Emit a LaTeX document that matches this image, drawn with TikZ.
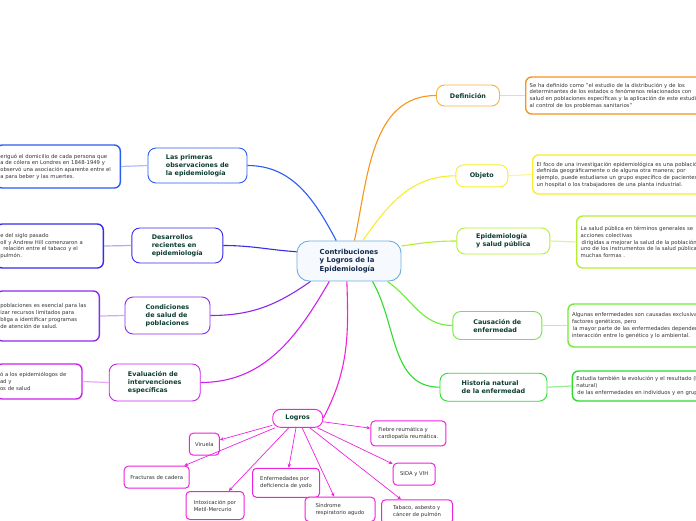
\documentclass[tikz,border=0pt]{standalone}
\usepackage{fontspec}
\setmainfont{DejaVu Sans}
\usetikzlibrary{arrows.meta}
\definecolor{azul}{HTML}{2B5CF2}
\definecolor{indigo}{HTML}{3A2BEB}
\definecolor{violeta}{HTML}{8A2BE8}
\definecolor{purpura}{HTML}{CC22EE}
\definecolor{rosa}{HTML}{EE22DD}
\definecolor{verde}{HTML}{2EDB2E}
\definecolor{verdeclaro}{HTML}{6EEA3A}
\definecolor{lima}{HTML}{B5EE30}
\definecolor{amarillo}{HTML}{F8EC2E}
\definecolor{naranja}{HTML}{F7941D}
\definecolor{naranjaclaro}{HTML}{FBB040}
\definecolor{celeste}{HTML}{6AAEE0}
\definecolor{celestefondo}{HTML}{F6FAFE}
\definecolor{verdeosc}{HTML}{0B3D30}
\definecolor{azulosc}{HTML}{13284A}
\definecolor{gristxt}{HTML}{333333}
\tikzset{
  rama/.style={draw,fill=white,rounded corners=8pt,line width=0.9pt,align=left,
    text=verdeosc,font=\bfseries\fontsize{6.4}{8}\selectfont},
  nota/.style={draw,fill=white,rounded corners=6pt,line width=1.4pt,align=left,
    text=gristxt,font=\fontsize{5.3}{6.7}\selectfont,inner sep=4pt},
  logro/.style={draw=rosa,fill=white,rounded corners=4pt,line width=1pt,align=left,
    text=gristxt,font=\fontsize{5.3}{7}\selectfont},
  flecha/.style={draw=rosa,line width=0.7pt,-{Stealth[length=4pt,width=3.5pt]}},
  enlace/.style={line width=1.1pt},
  union/.style={line width=1.2pt}
}
\begin{document}
\begin{tikzpicture}[x=1pt,y=-1pt]
\useasboundingbox (0,0) rectangle (696,520);
\clip (0,0) rectangle (696,520);

\node[draw=celeste,fill=celestefondo,rounded corners=12pt,line width=0.9pt,align=left,
  text=azulosc,font=\bfseries\fontsize{6.9}{8.5}\selectfont,
  minimum width=104pt,minimum height=40pt] (central) at (349,261)
  {Contribuciones\\y Logros de la\\Epidemiología};

% ramas izquierda
\node[rama,draw=azul,minimum width=99pt,minimum height=35pt] (prim) at (197.5,165.5)
  {Las primeras\\observaciones de\\la epidemiología};
\node[rama,draw=indigo,minimum width=91pt,minimum height=35pt] (desa) at (177.3,245.5)
  {Desarrollos\\recientes en\\epidemiología};
\node[rama,draw=violeta,minimum width=85pt,minimum height=37pt] (cond) at (167.5,315.5)
  {Condiciones\\de salud de\\poblaciones};
\node[rama,draw=purpura,minimum width=91pt,minimum height=37pt] (eval) at (154.7,382.5)
  {Evaluación de\\intervenciones\\específicas};

% ramas derecha
\node[rama,draw=naranjaclaro,minimum width=63pt,minimum height=21pt] (defi) at (468,95.5)
  {Definición};
\node[rama,draw=amarillo,minimum width=52pt,minimum height=22pt] (obje) at (481.8,175.8)
  {Objeto};
\node[rama,draw=lima,minimum width=93pt,minimum height=26pt] (epsp) at (503.3,241)
  {Epidemiología\\y salud pública};
\node[rama,draw=verdeclaro,minimum width=89pt,minimum height=28pt] (caus) at (497.3,325.5)
  {Causación de\\enfermedad};
\node[rama,draw=verde,minimum width=107pt,minimum height=28pt] (hist) at (493.5,387.2)
  {Historia natural\\de la enfermedad};
\node[rama,draw=rosa,minimum width=50pt,minimum height=18pt] (logros) at (297.7,418.3)
  {Logros};

% notas
\node[nota,draw=azul,anchor=east,text width=116pt,minimum height=43pt] (primnota) at (121,166.5)
  {eriguó el domicilio de cada persona que\\a de cólera en Londres en 1848-1949 y\\observó una asociación aparente entre el\\a para beber y las muertes.};
\node[nota,draw=indigo,anchor=east,text width=99pt,minimum height=44pt] (desanota) at (104,246)
  {e del siglo pasado\\oll y Andrew Hill comenzaron a\\\hspace{3pt}relación entre el tabaco y el\\pulmón.};
\node[nota,draw=violeta,anchor=east,text width=95pt,minimum height=50pt] (condnota) at (100,316)
  {poblaciones es esencial para las\\izar recursos limitados para\\bliga a identificar programas\\de atención de salud.};
\node[nota,draw=purpura,anchor=east,text width=78pt,minimum height=35pt] (evalnota) at (82.7,381.5)
  {ó a los epidemiólogos de\\ad y\\os de salud};
\node[nota,draw=naranja,anchor=west,text width=260pt,minimum height=37pt] (definota) at (525,95.5)
  {Se ha definido como "el estudio de la distribución y de los\\determinantes de los estados o fenómenos relacionados con\\salud en poblaciones específicas y la aplicación de este estudio\\al control de los problemas sanitarios"};
\node[nota,draw=amarillo,anchor=west,text width=260pt,minimum height=39pt] (objenota) at (532,174.5)
  {El foco de una investigación epidemiológica es una población\\definida geográficamente o de alguna otra manera; por\\ejemplo, puede estudiarse un grupo específico de pacientes\\un hospital o los trabajadores de una planta industrial.};
\node[nota,draw=lima,anchor=west,text width=260pt,minimum height=52pt] (epspnota) at (576,242)
  {La salud pública en términos generales se\\acciones colectivas\\\hspace{1pt}dirigidas a mejorar la salud de la población\\uno de los instrumentos de la salud pública\\muchas formas .};
\node[nota,draw=verdeclaro,anchor=west,text width=260pt,minimum height=43pt] (causnota) at (567.3,325.5)
  {Algunas enfermedades son causadas exclusivamente\\factores genéticos, pero\\\hspace{1pt}la mayor parte de las enfermedades dependen\\interacción entre lo genético y lo ambiental.};
\node[nota,draw=verde,anchor=west,text width=260pt,minimum height=30pt] (histnota) at (571.7,386)
  {Estudia también la evolución y el resultado (historia\\natural)\\\hspace{1pt}de las enfermedades en individuos y en grupos.};

% logros
\node[logro,minimum width=30pt,minimum height=22pt] (viru) at (204.3,444.2) {Viruela};
\node[logro,minimum width=65pt,minimum height=22pt] (frac) at (156.7,477.2) {Fracturas de cadera};
\node[logro,minimum width=58pt,minimum height=28pt] (intox) at (215,505.5) {Intoxicación por\\Metil-Mercurio};
\node[logro,minimum width=67pt,minimum height=29pt] (enfe) at (286,482.8) {Enfermedades por\\deficiencia de yodo};
\node[logro,anchor=north,minimum width=70pt,inner ysep=6pt] (sind) at (340,496.7) {Síndrome\\respiratorio agudo};
\node[logro,anchor=north,minimum width=71pt,inner ysep=6pt] (taba) at (417,499.3) {Tabaco, asbesto y\\cáncer de pulmón};
\node[logro,minimum width=42pt,minimum height=22pt] (sida) at (414.2,474.2) {SIDA y VIH};
\node[logro,minimum width=75pt,minimum height=25pt] (fieb) at (408.4,433.4) {Fiebre reumática y\\cardiopatía reumática.};

% conectores
\draw[enlace,azul] (central.122) to[out=118,in=0] (prim.east);
\draw[enlace,indigo] (central.170) to[out=176,in=0] (desa.east);
\draw[enlace,violeta] (central.-152) to[out=-145,in=0] (cond.east);
\draw[enlace,purpura] (central.-134) to[out=-120,in=0] (eval.east);
\draw[enlace,rosa] (central.-96) to[out=-88,in=62] (logros.east);
\draw[enlace,verde] (central.-41) to[out=-60,in=180] (hist.west);
\draw[enlace,verdeclaro] (central.-28) to[out=-35,in=180] (caus.west);
\draw[enlace,lima] (central.16) to[out=8,in=180] (epsp.west);
\draw[enlace,amarillo] (central.56) to[out=55,in=180] (obje.west);
\draw[enlace,naranja] (central.75) to[out=78,in=180] (defi.west);

\draw[union,azul!40] (prim.west) -- (primnota.east);
\draw[union,indigo!40] (desa.west) -- (desanota.east);
\draw[union,violeta!40] (cond.west) -- (condnota.east);
\draw[union,purpura!40] (eval.west) -- (evalnota.east);
\draw[union,naranja!40] (defi.east) -- (definota.west);
\draw[union,amarillo!50] (obje.east) -- (objenota.west);
\draw[union,lima!50] (epsp.east) -- (epspnota.west);
\draw[union,verdeclaro!50] (caus.east) -- (causnota.west);
\draw[union,verde!50] (hist.east) -- (histnota.west);

\foreach \dest in {viru,frac,intox,enfe,sind,taba,sida,fieb}
  \draw[flecha] (logros) -- (\dest);
\end{tikzpicture}
\end{document}
